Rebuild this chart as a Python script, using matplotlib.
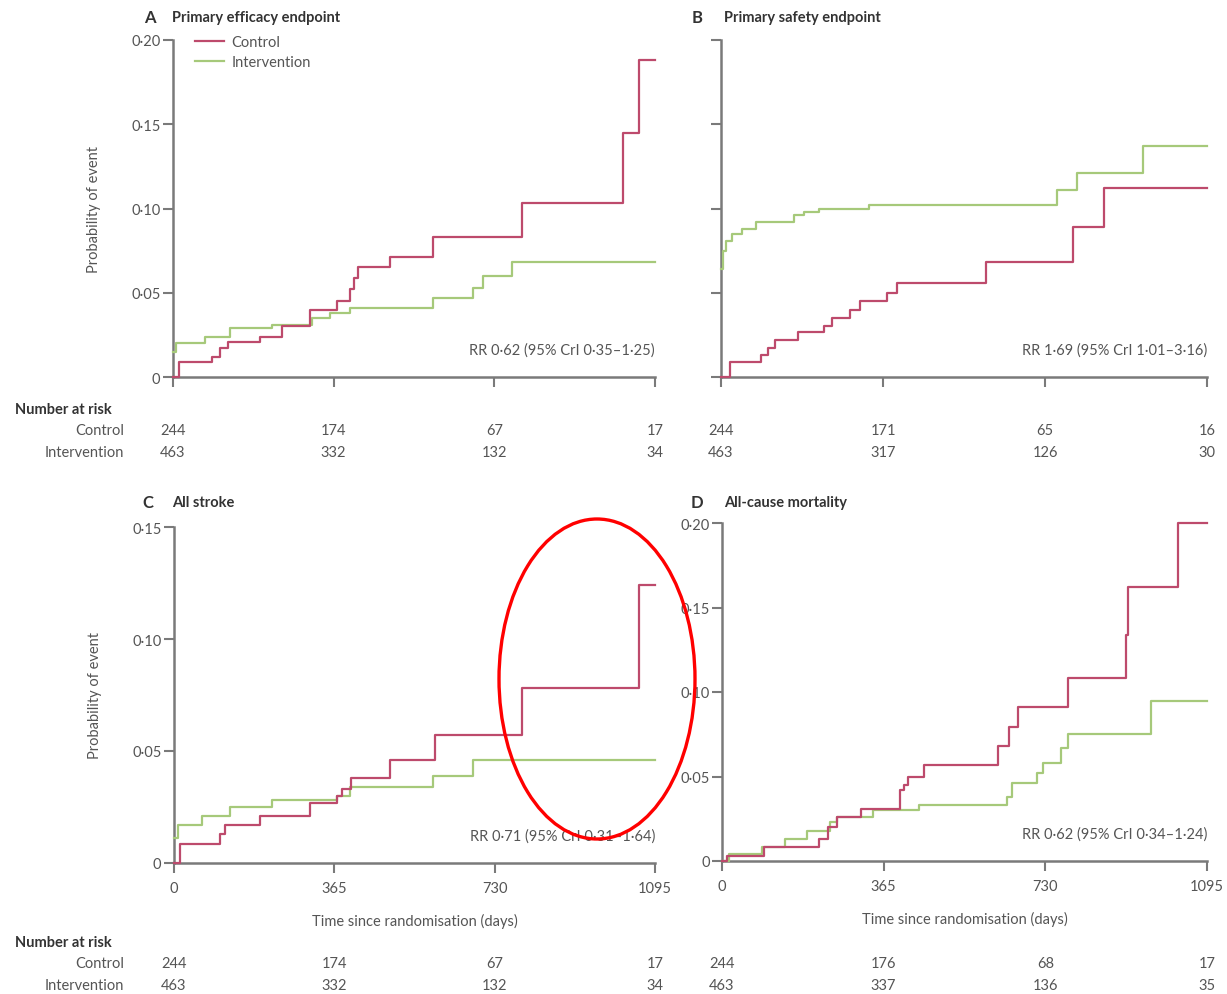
import matplotlib
matplotlib.use("Agg")
import matplotlib.pyplot as plt
from matplotlib.patches import Ellipse
from matplotlib.ticker import FuncFormatter
from matplotlib.lines import Line2D
import matplotlib.transforms as mtransforms

plt.rcParams['font.family'] = ['Lato', 'DejaVu Sans']

# ---------------- data ----------------
END_DAY = 1095
x_ticks = [0, 365, 730, 1095]

# Panel A: primary efficacy endpoint
a_ctrl_t = [0, 14, 89, 107, 125, 198, 248, 311, 373, 402, 411, 420, 493, 591, 793, 1022, 1059]
a_ctrl_v = [0, 0.009, 0.012, 0.017, 0.021, 0.024, 0.030, 0.040, 0.045, 0.052, 0.059, 0.065, 0.071, 0.083, 0.103, 0.145, 0.188]
a_int_t = [0, 7, 73, 130, 225, 316, 357, 402, 591, 682, 704, 770]
a_int_v = [0.015, 0.020, 0.024, 0.029, 0.031, 0.035, 0.038, 0.041, 0.047, 0.053, 0.060, 0.068]

# Panel B: primary safety endpoint
b_ctrl_t = [0, 20, 90, 106, 122, 173, 232, 251, 290, 314, 373, 396, 597, 793, 863]
b_ctrl_v = [0, 0.009, 0.013, 0.017, 0.022, 0.027, 0.030, 0.035, 0.040, 0.045, 0.050, 0.056, 0.068, 0.089, 0.112]
b_int_t = [0, 5, 12, 24, 47, 78, 165, 188, 220, 334, 758, 801, 950]
b_int_v = [0.064, 0.075, 0.081, 0.085, 0.088, 0.092, 0.096, 0.098, 0.100, 0.102, 0.111, 0.121, 0.137]

# Panel C: all stroke
c_ctrl_t = [0, 14, 105, 116, 196, 310, 371, 382, 402, 492, 594, 793, 1059]
c_ctrl_v = [0, 0.0085, 0.013, 0.017, 0.021, 0.027, 0.030, 0.033, 0.038, 0.046, 0.057, 0.078, 0.124]
c_int_t = [0, 9, 63, 127, 223, 371, 400, 590, 680]
c_int_v = [0.011, 0.017, 0.021, 0.025, 0.028, 0.030, 0.034, 0.039, 0.046]

# Panel D: all-cause mortality
d_ctrl_t = [0, 12, 94, 220, 240, 260, 313, 403, 411, 419, 456, 623, 647, 668, 782, 912, 916, 1030]
d_ctrl_v = [0, 0.003, 0.008, 0.013, 0.020, 0.026, 0.031, 0.042, 0.045, 0.050, 0.057, 0.068, 0.079, 0.091, 0.108, 0.134, 0.162, 0.200]
d_int_t = [0, 16, 90, 142, 191, 244, 260, 342, 444, 643, 655, 712, 725, 765, 782, 969]
d_int_v = [0, 0.004, 0.008, 0.013, 0.018, 0.023, 0.026, 0.030, 0.033, 0.038, 0.046, 0.052, 0.058, 0.067, 0.075, 0.0945]

# Numbers at risk
a_risk_ctrl = [244, 174, 67, 17]
a_risk_int = [463, 332, 132, 34]
b_risk_ctrl = [244, 171, 65, 16]
b_risk_int = [463, 317, 126, 30]
c_risk_ctrl = [244, 174, 67, 17]
c_risk_int = [463, 332, 132, 34]
d_risk_ctrl = [244, 176, 68, 17]
d_risk_int = [463, 337, 136, 35]

titles = ["Primary efficacy endpoint", "Primary safety endpoint", "All stroke", "All-cause mortality"]
letters = ["A", "B", "C", "D"]
rr_texts = ["RR 0·62 (95% CrI 0·35–1·25)", "RR 1·69 (95% CrI 1·01–3·16)",
            "RR 0·71 (95% CrI 0·31–1·64)", "RR 0·62 (95% CrI 0·34–1·24)"]
ymax = [0.20, 0.20, 0.15, 0.20]

# ---------------- style ----------------
RED = "#bd4a6c"
GREEN = "#a6c97a"
AX = "#7a7a7a"
TXT = "#555555"

W, H = 1227, 995
fig = plt.figure(figsize=(W / 100, H / 100), dpi=100)
fig.patch.set_facecolor("white")

def px_axes(x0, x1, ytop, ybot):
    return fig.add_axes([x0 / W, 1 - ybot / H, (x1 - x0) / W, (ybot - ytop) / H])

axA = px_axes(173, 655, 41, 378)
axB = px_axes(721, 1207, 41, 378)
axC = px_axes(174, 655, 528, 864)
axD = px_axes(722, 1207, 524, 862)
axes = [axA, axB, axC, axD]

series = [(a_ctrl_t, a_ctrl_v, a_int_t, a_int_v),
          (b_ctrl_t, b_ctrl_v, b_int_t, b_int_v),
          (c_ctrl_t, c_ctrl_v, c_int_t, c_int_v),
          (d_ctrl_t, d_ctrl_v, d_int_t, d_int_v)]

def fmt(v, pos):
    if abs(v) < 1e-9:
        return "0"
    return f"{v:.2f}".replace(".", "·")

for i, ax in enumerate(axes):
    ct, cv, it, iv = series[i]
    ax.step(it + [END_DAY], iv + [iv[-1]], where="post", color=GREEN, lw=1.6, clip_on=False, zorder=3)
    ax.step(ct + [END_DAY], cv + [cv[-1]], where="post", color=RED, lw=1.6, clip_on=False, zorder=4)
    ax.set_xlim(0, END_DAY)
    ax.set_ylim(0, ymax[i])
    ax.set_yticks([k * 0.05 for k in range(int(round(ymax[i] / 0.05)) + 1)])
    ax.set_xticks(x_ticks)
    for s in ["top", "right"]:
        ax.spines[s].set_visible(False)
    for s in ["left", "bottom"]:
        ax.spines[s].set_color(AX)
        ax.spines[s].set_linewidth(1.8)
    ax.tick_params(axis="both", colors=AX, length=7, width=1.5, direction="out",
                   labelcolor=TXT, labelsize=10.5, pad=2)
    ax.tick_params(axis="x", pad=6)
    ax.yaxis.set_major_formatter(FuncFormatter(fmt))
    if i in (0, 1):
        ax.set_xticklabels([])
    if i == 1:
        ax.set_yticklabels([])
    if i in (0, 2):
        ax.set_ylabel("Probability of event", color=TXT, fontsize=10.5, labelpad=22)
    if i in (2, 3):
        ax.set_xlabel("Time since randomisation (days)", color=TXT, fontsize=10.5, labelpad=13)
    ax.text(1.0, 0.082, rr_texts[i], transform=ax.transAxes, ha="right", va="center",
            color=TXT, fontsize=10.5)

# Titles
title_pos = [(150, 18, 172), (697, 18, 724), (148, 503, 172), (697, 503, 724)]
for i, (lx, ly, tx) in enumerate(title_pos):
    fig.text(lx / W, 1 - ly / H, letters[i], fontsize=12, fontweight="bold", color="#333333", va="center", ha="center")
    fig.text(tx / W, 1 - ly / H, titles[i], fontsize=10.5, fontweight="bold", color="#333333", va="center", ha="left")

# Legend in panel A
leg_handles = [Line2D([0], [0], color=RED, lw=1.6), Line2D([0], [0], color=GREEN, lw=1.6)]
axA.legend(leg_handles, ["Control", "Intervention"], loc="upper left",
           bbox_to_anchor=(12 / 482, 1.045), frameon=False, handlelength=2.0,
           handletextpad=0.5, labelspacing=0.4, fontsize=10.5, labelcolor=TXT,
           borderaxespad=0.3)

# Numbers at risk
risk = [(axA, a_risk_ctrl, a_risk_int, (410, 431, 453), True),
        (axB, b_risk_ctrl, b_risk_int, (410, 431, 453), False),
        (axC, c_risk_ctrl, c_risk_int, (943, 964, 986), True),
        (axD, d_risk_ctrl, d_risk_int, (943, 964, 986), False)]
for ax, rc, ri, (yh, yc, yi), show_labels in risk:
    trans = mtransforms.blended_transform_factory(ax.transData, fig.transFigure)
    for xv, n in zip(x_ticks, rc):
        fig.text(xv, 1 - yc / H, str(n), transform=trans, ha="center", va="center", color=TXT, fontsize=10.5)
    for xv, n in zip(x_ticks, ri):
        fig.text(xv, 1 - yi / H, str(n), transform=trans, ha="center", va="center", color=TXT, fontsize=10.5)
    if show_labels:
        fig.text(15 / W, 1 - yh / H, "Number at risk", ha="left", va="center", color="#333333",
                 fontsize=10.5, fontweight="bold")
        fig.text(124 / W, 1 - yc / H, "Control", ha="right", va="center", color=TXT, fontsize=10.5)
        fig.text(124 / W, 1 - yi / H, "Intervention", ha="right", va="center", color=TXT, fontsize=10.5)

# Red highlight ellipse overlay
fig.add_artist(Ellipse((597 / W, 1 - 680 / H), 196 / W, 320 / H, transform=fig.transFigure,
                       fill=False, edgecolor="red", lw=2.4, zorder=10))

fig.savefig("out.png", dpi=100, facecolor="white")
